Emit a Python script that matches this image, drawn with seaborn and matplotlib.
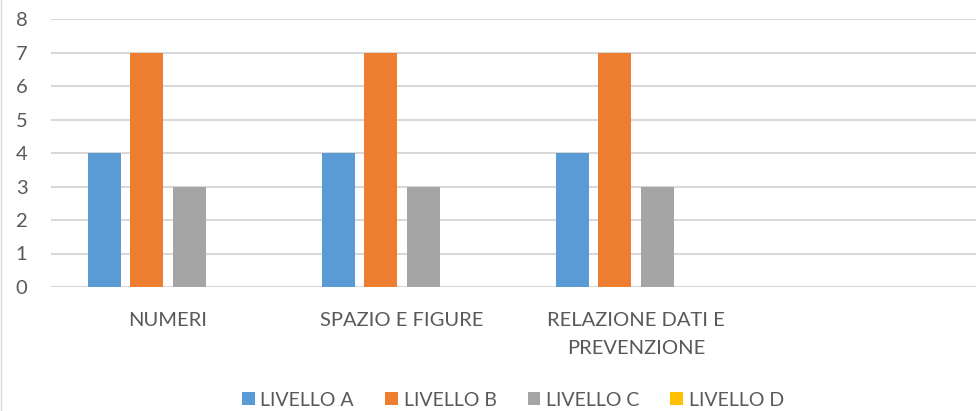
import matplotlib
matplotlib.use("Agg")
import matplotlib.pyplot as plt
import seaborn as sns
import pandas as pd
from matplotlib.patches import Patch
from matplotlib.lines import Line2D

categories = ["NUMERI", "SPAZIO E FIGURE", "RELAZIONE DATI E\nPREVENZIONE"]
livello_a = [4, 4, 4]
livello_b = [7, 7, 7]
livello_c = [3, 3, 3]
livello_d = [0, 0, 0]
series_names = ["LIVELLO A", "LIVELLO B", "LIVELLO C", "LIVELLO D"]
colors = ["#5B9BD5", "#ED7D31", "#A5A5A5", "#FFC000"]
yticks = [0, 1, 2, 3, 4, 5, 6, 7, 8]

rows = []
for name, vals in zip(series_names, [livello_a, livello_b, livello_c, livello_d]):
    for c, v in zip(categories, vals):
        rows.append({"cat": c, "serie": name, "val": v})
df = pd.DataFrame(rows)

sns.set_theme(style="white")
plt.rcParams["font.family"] = ["Lato", "DejaVu Sans"]

W, H = 976, 411
fig = plt.figure(figsize=(W / 100, H / 100), dpi=100)
left, right = 51, 987
top, bottom = 19, 287
ax = fig.add_axes([left / W, (H - bottom) / H, (right - left) / W, (bottom - top) / H])

sns.barplot(data=df, x="cat", y="val", hue="serie", palette=colors,
            width=0.727, gap=0.224, ax=ax, legend=False, saturation=1,
            edgecolor="none")

ax.set_xlim(-0.5, 3.5)
ax.set_ylim(0, 8)
ax.set_yticks(yticks)
ax.set_xticks(range(len(categories)))
ax.set_xticklabels(categories, linespacing=1.75)
ax.set_xlabel("")
ax.set_ylabel("")
ax.grid(axis="y", color="#d9d9d9", linewidth=1.5)
ax.set_axisbelow(True)
for s in ax.spines.values():
    s.set_visible(False)
ax.tick_params(axis="both", length=0, colors="#595959")
ax.tick_params(axis="x", pad=18, labelsize=14.5)
ax.tick_params(axis="y", pad=17, labelsize=14.5)

handles = [Patch(facecolor=c, edgecolor="none", label=n) for c, n in zip(colors, series_names)]
fig.legend(handles=handles, loc="center", bbox_to_anchor=(513 / W, 1 - 400 / H), ncol=4,
           frameon=False, fontsize=14, labelcolor="#595959", handlelength=0.65,
           handleheight=0.65, handletextpad=0.3, columnspacing=1.6)

fig.add_artist(Line2D([0.0008, 0.0008], [0, 1], color="#d9d9d9", linewidth=1, transform=fig.transFigure))

fig.savefig("out.png", dpi=100)
